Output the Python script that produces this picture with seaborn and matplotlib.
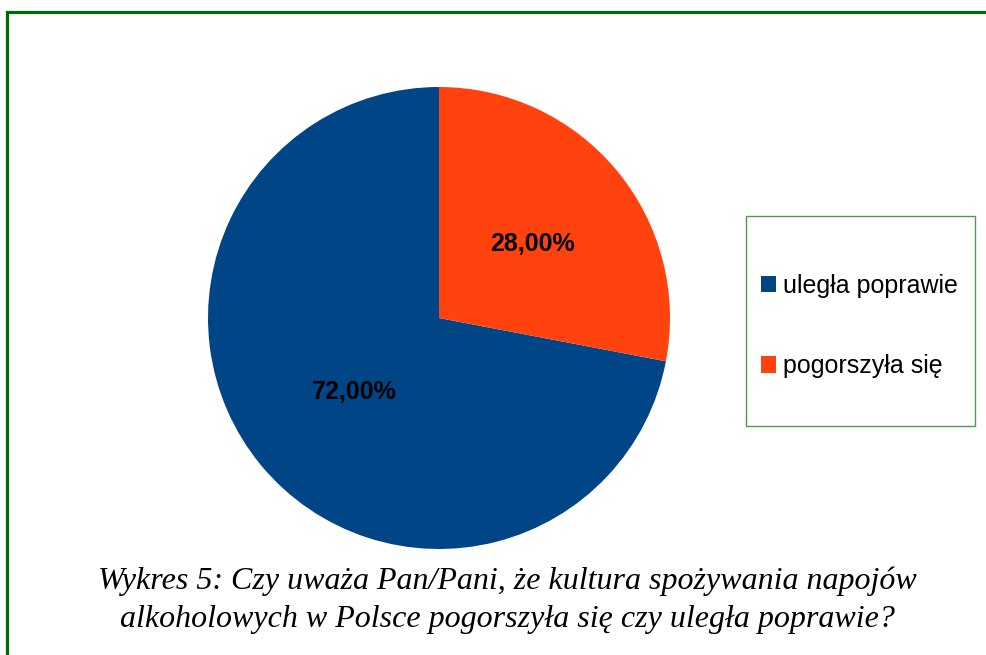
import seaborn as sns
import matplotlib
matplotlib.use("Agg")
from matplotlib import pyplot as plt
from matplotlib.patches import Rectangle
import pandas as pd

# data
categories = ["uległa poprawie", "pogorszyła się"]
shares = [72.0, 28.0]
colors = ["#004586", "#ff420e"]
caption_lines = ["Wykres 5: Czy uważa Pan/Pani, że kultura spożywania napojów",
                 "alkoholowych w Polsce pogorszyła się czy uległa poprawie?"]

df = pd.DataFrame({"odpowiedz": categories, "udzial": shares})

sns.set_style("white")
plt.rcParams["font.family"] = ["Liberation Sans", "DejaVu Sans"]
plt.rcParams["text.color"] = "black"

W, H = 987, 655
fig = plt.figure(figsize=(W / 100, H / 100), dpi=100)

# pie axes: centre (439, 318), radius 231 px
cx, cy, r = 439, 318, 231
ax = fig.add_axes([(cx - r) / W, (H - cy - r) / H, 2 * r / W, 2 * r / H])
wedges, texts, autotexts = ax.pie(
    df["udzial"], colors=colors, startangle=90, counterclock=True,
    autopct=lambda p: f"{p:.2f}%".replace(".", ","), pctdistance=0.5,
    wedgeprops=dict(linewidth=0),
    textprops=dict(fontsize=18, fontweight="bold", color="black"),
)
for t in autotexts:
    x, y = t.get_position()
    t.set_position((x + 0.02, y))
ax.set_xlim(-1, 1)
ax.set_ylim(-1, 1)
ax.set_aspect("equal")
ax.axis("off")

# outer green frame (cut off on the right and bottom)
fig.patches.append(Rectangle((6.5 / W, -0.1), 1.2, (H - 11.5) / H + 0.1,
                             transform=fig.transFigure, fill=False,
                             edgecolor="#006c00", linewidth=2.3))

# legend box
fig.patches.append(Rectangle((746 / W, (H - 426) / H), 229 / W, 210 / H,
                             transform=fig.transFigure, fill=False,
                             edgecolor="#4e9a4e", linewidth=1.0))
leg = fig.legend(wedges, categories, loc="upper left",
                 bbox_to_anchor=(761 / W, (H - 274) / H),
                 frameon=False, fontsize=18, handlelength=0.6,
                 handleheight=0.62, handletextpad=0.3, labelspacing=2.25,
                 borderpad=0, borderaxespad=0)
for t in leg.get_texts():
    t.set_color("black")

# caption, one text per line at the reference baselines
for line, base in zip(caption_lines, [589, 627]):
    fig.text(507 / W, (H - base) / H, line, ha="center", va="baseline",
             fontsize=23, fontstyle="italic", family=["Liberation Serif"],
             color="black")

fig.savefig("out.png", dpi=100)
